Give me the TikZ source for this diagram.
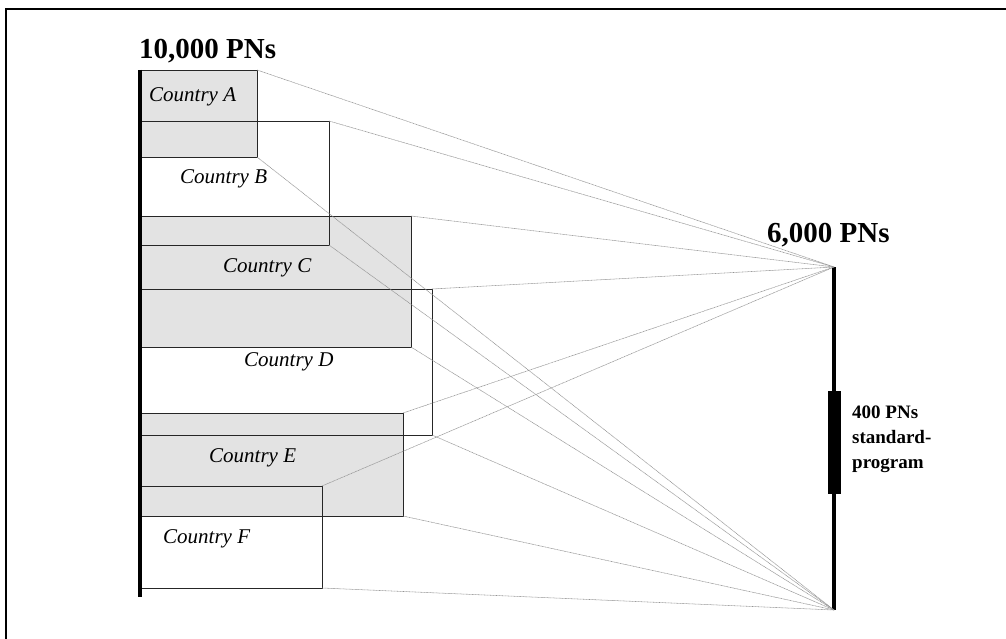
\documentclass[tikz,border=0pt]{standalone}
\usepackage{fontspec}
\setmainfont{Liberation Serif}
\begin{document}
\begin{tikzpicture}[x=1pt,y=-1pt,
  share/.style={rectangle,anchor=north west,inner sep=0pt,outer sep=0pt,
                draw=black!85,line width=0.8pt},
  shaded/.style={share,fill=black!11},
  plain/.style={share},
  country/.style={anchor=base west,inner sep=0pt,font=\fontsize{21}{24}\selectfont\itshape},
  total/.style={anchor=base west,inner sep=0pt,font=\fontsize{29}{32}\selectfont\bfseries},
  stdtext/.style={anchor=base west,inner sep=0pt,font=\fontsize{19}{23}\selectfont\bfseries},
  axis/.style={line width=3.2pt,black},
  link/.style={gray!85,line width=0.55pt,dash pattern=on 1pt off 0.5pt}]
\useasboundingbox (0,0) rectangle (1006,639);
\begin{scope}
\clip (0,0) rectangle (1006,639);
\draw[line width=2pt] (6,9) rectangle (1015,650);
\end{scope}

% shares of each country (filled ones first, outlined ones on top)
\node[shaded,minimum width=117pt,minimum height=87pt]  (A) at (140,70) {};
\node[shaded,minimum width=271pt,minimum height=131pt] (C) at (140,216) {};
\node[shaded,minimum width=263pt,minimum height=103pt] (E) at (140,413) {};
\node[plain,minimum width=189pt,minimum height=124pt]  (B) at (140,121) {};
\node[plain,minimum width=292pt,minimum height=146pt]  (D) at (140,289) {};
\node[plain,minimum width=182pt,minimum height=102pt]  (F) at (140,486) {};

% the two scales
\coordinate (Ltop) at (140,70);
\coordinate (Lbot) at (140,597);
\coordinate (Rtop) at (834,267);
\coordinate (Rbot) at (834,610);
\draw[axis] (Ltop) -- (Lbot);
\draw[axis] (Rtop) -- (Rbot);
\node[fill=black,inner sep=0pt,minimum width=13pt,minimum height=103pt,anchor=north] (std) at (834.5,391) {};

% mapping of each share onto the smaller scale
\foreach \c in {A,B,C,D,E,F}{
  \draw[link] (\c.north east) -- (Rtop);
  \draw[link] (\c.south east) -- (Rbot);
}

% labels
\node[total] (big) at (139,59) {10,000 PNs};
\node[total] (small) at (767,242) {6,000 PNs};
\node[stdtext] (std1) at (852,418) {400 PNs};
\node[stdtext] (std2) at (852,443) {standard-};
\node[stdtext] (std3) at (852,468) {program};
\node[country] (la) at (149,102) {Country A};
\node[country] (lb) at (180,184) {Country B};
\node[country] (lc) at (223,272) {Country C};
\node[country] (ld) at (244,366) {Country D};
\node[country] (le) at (209,462) {Country E};
\node[country] (lf) at (163,543) {Country F};
\end{tikzpicture}
\end{document}
